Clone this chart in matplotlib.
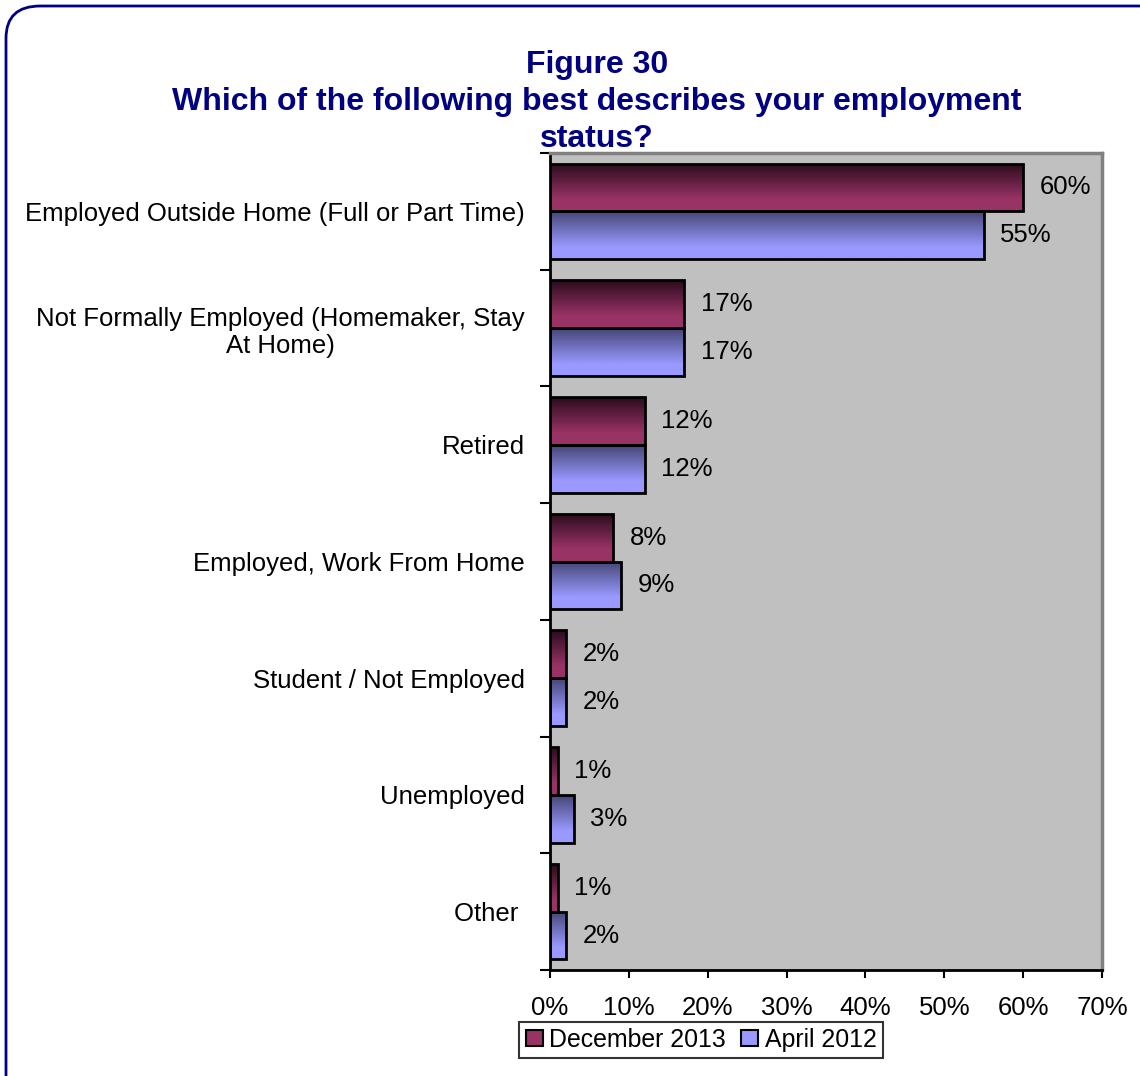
import numpy as np
import matplotlib
matplotlib.use("Agg")
import matplotlib.pyplot as plt
from matplotlib.patches import FancyBboxPatch, Patch
from matplotlib.colors import to_rgb

plt.rcParams['font.family'] = ['Liberation Sans', 'DejaVu Sans']

categories = [
    "Employed Outside Home (Full or Part Time)",
    "Not Formally Employed (Homemaker, Stay\nAt Home)",
    "Retired",
    "Employed, Work From Home",
    "Student / Not Employed",
    "Unemployed",
    "Other ",
]
dec_2013 = [60, 17, 12, 8, 2, 1, 1]
apr_2012 = [55, 17, 12, 9, 2, 3, 2]
series_names = ["December 2013", "April 2012"]
x_ticks = [0, 10, 20, 30, 40, 50, 60, 70]

W, H = 1140, 1076
fig = plt.figure(figsize=(W / 100, H / 100), dpi=100)

# rounded navy frame around the whole chart
frame = FancyBboxPatch((6 / W, -0.05), 1.2, 1 - 6 / H + 0.05,
                       boxstyle="round,pad=0,rounding_size=0.03",
                       transform=fig.transFigure, facecolor="none",
                       edgecolor="#000080", linewidth=2, zorder=-1)
fig.patches.append(frame)

ax = fig.add_axes([550 / W, 1 - 970 / H, (1102 - 550) / W, (970 - 153) / H])
ax.set_facecolor("#C0C0C0")

n = len(categories)
ys = np.arange(n)[::-1].astype(float)  # first category at the top
bh = 0.41
fs = 18.5


def gradient(top, bottom, steps=64, plateau=0.75):
    t = np.clip(np.linspace(0, 1, steps) / plateau, 0, 1)
    a, b = np.array(to_rgb(top)), np.array(to_rgb(bottom))
    return (a[None, :] * (1 - t[:, None]) + b[None, :] * t[:, None])[:, None, :]


grad_dec = gradient("#2a0c1c", "#993366")
grad_apr = gradient("#464677", "#9999ff")

for vals, offset, grad in ((dec_2013, bh / 2, grad_dec), (apr_2012, -bh / 2, grad_apr)):
    bars = ax.barh(ys + offset, vals, height=bh, facecolor="none",
                   edgecolor="black", linewidth=2, zorder=3)
    for rect, v in zip(bars, vals):
        y0 = rect.get_y()
        im = ax.imshow(grad, extent=(0, v, y0, y0 + bh), aspect="auto",
                       origin="upper", zorder=2, interpolation="bilinear")
        im.set_clip_path(rect)
        ax.text(v + 2.1, y0 + bh / 2, f"{v}%", va="center", ha="left",
                fontsize=fs, color="black", zorder=4)

ax.set_xlim(0, 70)
ax.set_ylim(-0.5, n - 0.5)
ax.set_xticks(x_ticks)
ax.set_xticklabels([f"{t}%" for t in x_ticks], fontsize=fs)
ax.set_yticks(ys)
ax.set_yticklabels(categories, fontsize=fs, multialignment="center")
ax.tick_params(axis="y", length=0, pad=18)
ax.tick_params(axis="x", length=6, width=1.5, pad=13, direction="out")
ax.set_yticks(np.arange(n + 1) - 0.5, minor=True)
ax.tick_params(axis="y", which="minor", length=7, width=1.5, direction="out")

for s in ("left", "bottom"):
    ax.spines[s].set_color("black")
    ax.spines[s].set_linewidth(2)
for s in ("top", "right"):
    ax.spines[s].set_color("#808080")
    ax.spines[s].set_linewidth(2.5)

fig.text(597 / W, 1 - 50 / H, "Figure 30\nWhich of the following best describes your employment\nstatus?",
         ha="center", va="top", fontsize=23, fontweight="bold", color="#000080",
         linespacing=1.3, transform=fig.transFigure)

handles = [Patch(facecolor="#993366", edgecolor="black", linewidth=1.5),
           Patch(facecolor="#9999ff", edgecolor="black", linewidth=1.5)]
leg = fig.legend(handles, series_names, loc="center",
                 bbox_to_anchor=(701 / W, 1 - 1040 / H), ncol=2, fontsize=17.9,
                 frameon=True, fancybox=False, borderpad=0.25,
                 handlelength=0.7, handleheight=0.6, handletextpad=0.25,
                 columnspacing=0.6, borderaxespad=0)
leg.get_frame().set_edgecolor("black")
leg.get_frame().set_linewidth(1.5)

fig.savefig("out.png", dpi=100)
